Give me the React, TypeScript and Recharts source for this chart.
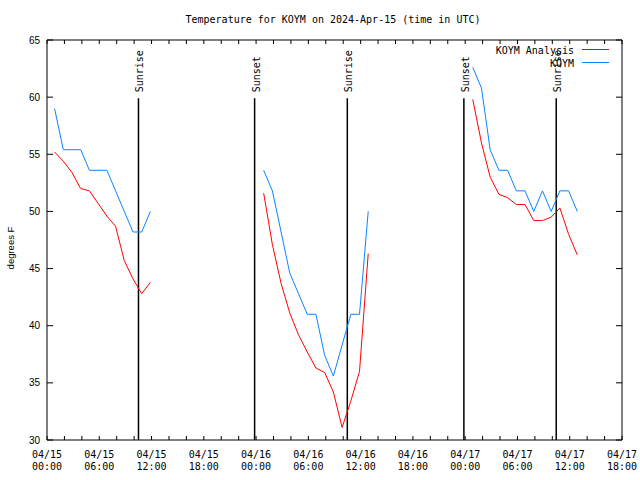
import React from 'react';
import { LineChart, Line, XAxis, YAxis, ReferenceLine } from 'recharts';

// hours since 04/15 00:00 UTC (null rows mark the gaps between periods)
const HOURS = [
  0.87, 1.87, 2.87, 3.87, 4.87, 5.87, 6.87, 7.87, 8.87, 9.87, 10.87, 11.87,
  18,
  24.87, 25.87, 26.87, 27.87, 28.87, 29.87, 30.87, 31.87, 32.87, 33.87, 34.87, 35.87, 36.87,
  42,
  48.87, 49.87, 50.87, 51.87, 52.87, 53.87, 54.87, 55.87, 56.87, 57.87, 58.87, 59.87, 60.87,
];
const KOYM = [
  59.0, 55.4, 55.4, 55.4, 53.6, 53.6, 53.6, 51.8, 50.0, 48.2, 48.2, 50.0,
  null,
  53.6, 51.8, 48.2, 44.6, 42.8, 41.0, 41.0, 37.4, 35.6, 38.3, 41.0, 41.0, 50.0,
  null,
  62.6, 60.8, 55.4, 53.6, 53.6, 51.8, 51.8, 50.0, 51.8, 50.0, 51.8, 51.8, 50.0,
];
const ANALYSIS = [
  55.2, 54.4, 53.4, 52.0, 51.8, 50.7, 49.6, 48.7, 45.7, 44.1, 42.8, 43.8,
  null,
  51.6, 47.1, 43.7, 41.1, 39.2, 37.7, 36.3, 35.9, 34.2, 31.1, 33.4, 36.0, 46.3,
  null,
  59.8, 56.0, 53.0, 51.5, 51.2, 50.6, 50.6, 49.2, 49.2, 49.5, 50.3, 48.0, 46.2,
];
const SUNRISE = [10.5, 34.47, 58.45];
const SUNSET = [23.83, 47.85];
const X_TICKS = [0, 2, 4, 6, 8, 10, 12, 14, 16, 18, 20, 22, 24, 26, 28, 30, 32, 34, 36, 38, 40, 42, 44, 46, 48, 50, 52, 54, 56, 58, 60, 62, 64, 66];
const Y_TICKS = [30, 35, 40, 45, 50, 55, 60, 65];
const DAYS = ['04/15', '04/16', '04/17'];
const TITLE = 'Temperature for KOYM on 2024-Apr-15 (time in UTC)';

const data = HOURS.map((h, i) => ({ h, koym: KOYM[i], analysis: ANALYSIS[i] }));

const MONO = 'DejaVu Sans Mono';
const SANS = 'Liberation Sans';
const RED = '#ff0000';
const BLUE = '#0a84ff';

const pad = (n: number) => (n < 10 ? '0' + n : '' + n);

const BottomTick = (props: any) => {
  const { x, y, payload } = props;
  const v = payload.value as number;
  const showLabel = v % 6 === 0;
  const day = DAYS[Math.min(Math.floor(v / 24), DAYS.length - 1)];
  const hr = v % 24;
  const dayLabel = v === 72 ? DAYS[2] : day;
  return (
    <g>
      <line x1={x} y1={y} x2={x} y2={y - 4} stroke="#000" strokeWidth={1} />
      {showLabel && (
        <text x={x} y={y + 18} textAnchor="middle" fontFamily={MONO} fontSize={10} fill="#000">
          {dayLabel}
        </text>
      )}
      {showLabel && (
        <text x={x} y={y + 30} textAnchor="middle" fontFamily={MONO} fontSize={10} fill="#000">
          {pad(hr) + ':00'}
        </text>
      )}
    </g>
  );
};

const TopTick = (props: any) => {
  const { x, y } = props;
  return <line x1={x} y1={y} x2={x} y2={y + 4} stroke="#000" strokeWidth={1} />;
};

const LeftTick = (props: any) => {
  const { x, y, payload } = props;
  return (
    <g>
      <line x1={x} y1={y} x2={x + 6} y2={y} stroke="#000" strokeWidth={1} />
      <text x={x - 7} y={y + 3.5} textAnchor="end" fontFamily={SANS} fontSize={10} fill="#000">
        {payload.value}
      </text>
    </g>
  );
};

const RightTick = (props: any) => {
  const { x, y } = props;
  return <line x1={x} y1={y} x2={x - 6} y2={y} stroke="#000" strokeWidth={1} />;
};

const sunLabel = (text: string) => (props: any) => {
  const vb = props.viewBox || {};
  const lx = (vb.x ?? 0) + 5;
  const ly = (vb.y ?? 0) - 6;
  return (
    <text
      x={lx}
      y={ly}
      transform={`rotate(-90, ${lx}, ${ly})`}
      textAnchor="start"
      fontFamily={MONO}
      fontSize={10}
      fill="#000"
    >
      {text}
    </text>
  );
};

export default function App() {
  return (
    <div style={{ position: 'absolute', left: 0, top: 0, width: 640, height: 480, background: '#fff' }}>
      <LineChart
        width={640}
        height={480}
        data={data}
        margin={{ top: 20, right: 0, bottom: 0, left: 0 }}
      >
        <XAxis
          dataKey="h"
          type="number"
          domain={[0, 66]}
          ticks={X_TICKS}
          interval={0}
          allowDataOverflow
          height={40}
          tickSize={0}
          tickMargin={0}
          tickLine={false}
          axisLine={{ stroke: '#000', strokeWidth: 1 }}
          tick={<BottomTick />}
        />
        <XAxis
          xAxisId="top"
          orientation="top"
          dataKey="h"
          type="number"
          domain={[0, 66]}
          ticks={X_TICKS}
          interval={0}
          allowDataOverflow
          height={20}
          tickSize={0}
          tickMargin={0}
          tickLine={false}
          axisLine={{ stroke: '#000', strokeWidth: 1 }}
          tick={<TopTick />}
        />
        <YAxis
          type="number"
          domain={[30, 65]}
          ticks={Y_TICKS}
          interval={0}
          allowDataOverflow
          width={47}
          tickSize={0}
          tickMargin={0}
          tickLine={false}
          axisLine={{ stroke: '#000', strokeWidth: 1 }}
          tick={<LeftTick />}
        />
        <YAxis
          yAxisId="right"
          orientation="right"
          type="number"
          domain={[30, 65]}
          ticks={Y_TICKS}
          interval={0}
          allowDataOverflow
          width={18}
          tickSize={0}
          tickMargin={0}
          tickLine={false}
          axisLine={{ stroke: '#000', strokeWidth: 1 }}
          tick={<RightTick />}
        />
        {SUNRISE.map((h) => (
          <ReferenceLine
            key={'sr' + h}
            segment={[{ x: h, y: 59.9 }, { x: h, y: 30 }]}
            stroke="#000"
            strokeWidth={1.5}
            label={sunLabel('Sunrise')}
            ifOverflow="visible"
          />
        ))}
        {SUNSET.map((h) => (
          <ReferenceLine
            key={'ss' + h}
            segment={[{ x: h, y: 59.9 }, { x: h, y: 30 }]}
            stroke="#000"
            strokeWidth={1.5}
            label={sunLabel('Sunset')}
            ifOverflow="visible"
          />
        ))}
        <Line
          dataKey="analysis"
          stroke={RED}
          strokeWidth={1}
          dot={false}
          connectNulls={false}
          isAnimationActive={false}
        />
        <Line
          dataKey="koym"
          stroke={BLUE}
          strokeWidth={1}
          dot={false}
          connectNulls={false}
          isAnimationActive={false}
        />
      </LineChart>
      <svg
        width={640}
        height={480}
        style={{ position: 'absolute', left: 0, top: 0, pointerEvents: 'none' }}
      >
        <text x={333} y={23} textAnchor="middle" fontFamily={MONO} fontSize={10} fill="#000">
          {TITLE}
        </text>
        <text
          x={14}
          y={248}
          transform="rotate(-90, 14, 248)"
          textAnchor="middle"
          fontFamily={SANS}
          fontSize={9.5}
          fill="#000"
        >
          degrees F
        </text>
        <text x={574} y={53.5} textAnchor="end" fontFamily={MONO} fontSize={10} fill="#000">
          KOYM Analysis
        </text>
        <line x1={582} y1={49.5} x2={609} y2={49.5} stroke={RED} strokeWidth={1} />
        <text x={574} y={66.5} textAnchor="end" fontFamily={MONO} fontSize={10} fill="#000">
          KOYM
        </text>
        <line x1={582} y1={62.5} x2={609} y2={62.5} stroke={BLUE} strokeWidth={1} />
      </svg>
    </div>
  );
}
